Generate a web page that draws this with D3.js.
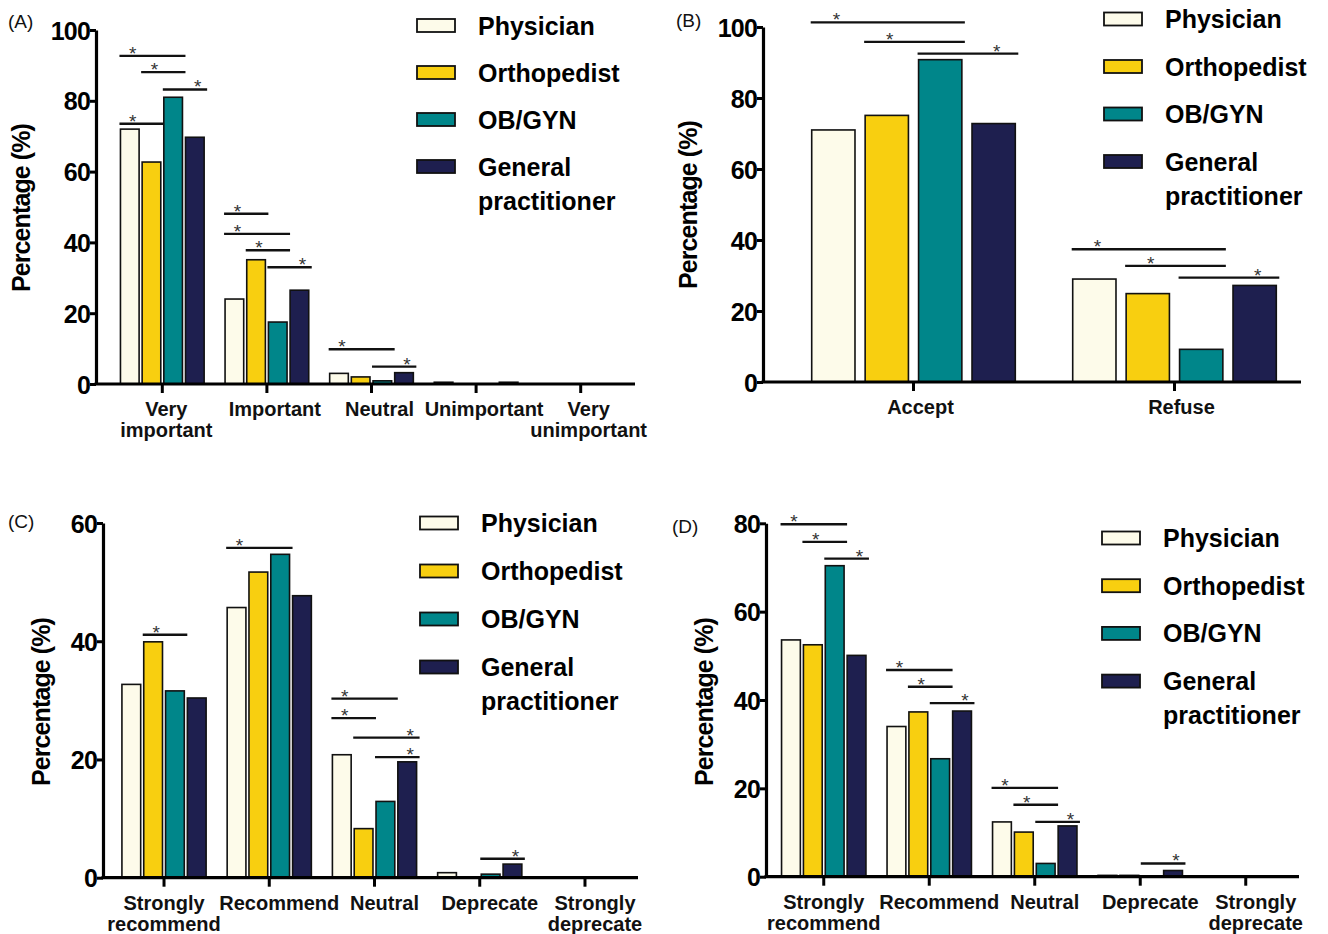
<!DOCTYPE html>
<html>
<head>
<meta charset="utf-8">
<script src="https://cdn.jsdelivr.net/npm/d3@7"></script>
<style>
  html, body { margin: 0; padding: 0; background: #ffffff; }
  svg { display: block; font-family: "Liberation Sans", Arial, Helvetica, sans-serif; }
</style>
</head>
<body>
<script>
// ---- shared series ----
const groups = ["Physician", "Orthopedist", "OB/GYN", "General practitioner"];
const groupColors = ["#fdfbea", "#f8cf10", "#00868a", "#1e1f4f"];

// ---- (A) importance ----
const catsA = ["Very important", "Important", "Neutral", "Unimportant", "Very unimportant"];
const catLinesA = [["Very", "important"], ["Important"], ["Neutral"], ["Unimportant"], ["Very", "unimportant"]];
const physicianA = [72.0, 24.0, 3.0, 0.5, 0];
const orthopedistA = [62.7, 35.1, 2.0, 0, 0];
const obgynA = [81.0, 17.5, 0.9, 0, 0];
const gpA = [69.7, 26.5, 3.2, 0.5, 0];
const ticksA = [0, 20, 40, 60, 80, 100];
// [category, from group, to group, bracket height (%), group under the star]
const sigA = [
  ["Very important", 0, 2, 92.7, 0], ["Very important", 1, 2, 88.1, 1],
  ["Very important", 2, 3, 83.2, 3], ["Very important", 0, 1, 73.5, 0],
  ["Important", 0, 1, 48.1, 0], ["Important", 0, 2, 42.4, 0],
  ["Important", 1, 2, 37.8, 1], ["Important", 2, 3, 33.0, 3],
  ["Neutral", 0, 2, 9.8, 0], ["Neutral", 2, 3, 4.9, 3]
];

// ---- (B) accept / refuse ----
const catsB = ["Accept", "Refuse"];
const catLinesB = [["Accept"], ["Refuse"]];
const physicianB = [71.0, 29.0];
const orthopedistB = [75.1, 24.9];
const obgynB = [90.8, 9.2];
const gpB = [72.8, 27.2];
const ticksB = [0, 20, 40, 60, 80, 100];
const sigB = [
  ["Accept", 0, 2, 101.3, 0], ["Accept", 1, 2, 95.8, 1], ["Accept", 2, 3, 92.5, 3],
  ["Refuse", 0, 2, 37.4, 0], ["Refuse", 1, 2, 32.7, 1], ["Refuse", 2, 3, 29.4, 3]
];

// ---- (C) recommendation ----
const catsC = ["Strongly recommend", "Recommend", "Neutral", "Deprecate", "Strongly deprecate"];
const catLinesC = [["Strongly", "recommend"], ["Recommend"], ["Neutral"], ["Deprecate"], ["Strongly", "deprecate"]];
const physicianC = [32.7, 45.7, 20.8, 0.85, 0];
const orthopedistC = [39.9, 51.7, 8.3, 0, 0];
const obgynC = [31.6, 54.7, 12.9, 0.6, 0];
const gpC = [30.4, 47.7, 19.6, 2.3, 0];
const ticksC = [0, 20, 40, 60];
const sigC = [
  ["Strongly recommend", 1, 2, 41.1, 1],
  ["Recommend", 0, 2, 55.8, 0],
  ["Neutral", 0, 2, 30.3, 0], ["Neutral", 0, 1, 27.0, 0],
  ["Neutral", 1, 3, 23.7, 3], ["Neutral", 2, 3, 20.4, 3],
  ["Deprecate", 2, 3, 3.2, 3]
];

// ---- (D) recommendation ----
const catsD = ["Strongly recommend", "Recommend", "Neutral", "Deprecate", "Strongly deprecate"];
const catLinesD = [["Strongly", "recommend"], ["Recommend"], ["Neutral"], ["Deprecate"], ["Strongly", "deprecate"]];
const physicianD = [53.6, 34.0, 12.4, 0.3, 0];
const orthopedistD = [52.5, 37.3, 10.1, 0.3, 0];
const obgynD = [70.4, 26.7, 3.0, 0, 0];
const gpD = [50.1, 37.5, 11.5, 1.4, 0];
const ticksD = [0, 20, 40, 60, 80];
const sigD = [
  ["Strongly recommend", 0, 2, 79.8, 0], ["Strongly recommend", 1, 2, 75.8, 1],
  ["Strongly recommend", 2, 3, 72.0, 3],
  ["Recommend", 0, 2, 46.8, 0], ["Recommend", 1, 2, 43.0, 1], ["Recommend", 2, 3, 39.3, 3],
  ["Neutral", 0, 2, 20.1, 0], ["Neutral", 1, 2, 16.3, 1], ["Neutral", 2, 3, 12.4, 3],
  ["Deprecate", 2, 3, 3.0, 3]
];

// ---- page layout ----
const W = 1328, H = 934;
const svg = d3.select("body").append("svg").attr("width", W).attr("height", H);

function drawPanel(p, L) {
  const g = svg.append("g");
  const y = d3.scaleLinear().domain([0, p.ticks[p.ticks.length - 1]]).range([L.y0, L.yTop]);
  const x0 = d3.scaleBand().domain(p.cats).range([L.bandStart, L.bandEnd])
    .paddingInner(L.outerPad * 2).paddingOuter(L.outerPad);
  const x1 = d3.scaleBand().domain(d3.range(groups.length)).range([0, x0.bandwidth()])
    .paddingInner(L.barPad);
  const bw = x1.bandwidth();

  // bars
  p.series.forEach((vals, si) => {
    g.append("g").selectAll("rect")
      .data(p.cats.map((c, ci) => ({ c, v: vals[ci] })).filter(d => d.v > 0))
      .join("rect")
      .attr("x", d => x0(d.c) + x1(si))
      .attr("y", d => y(d.v))
      .attr("width", bw)
      .attr("height", d => L.y0 - y(d.v))
      .attr("fill", groupColors[si])
      .attr("stroke", "#111")
      .attr("stroke-width", 1.6);
  });

  // significance brackets
  const sg = g.append("g");
  p.sig.forEach(([c, a, b, v, s]) => {
    const xa = x0(c) + x1(a) - 1;
    const xb = x0(c) + x1(b) + bw + 3;
    sg.append("line").attr("x1", xa).attr("x2", xb).attr("y1", y(v)).attr("y2", y(v))
      .attr("stroke", "#111").attr("stroke-width", 2.4);
    sg.append("text").attr("x", x0(c) + x1(s) + bw / 2 + 3).attr("y", y(v) + 4)
      .attr("text-anchor", "middle").attr("font-size", 19).attr("fill", "#333").text("*");
  });

  // y axis
  const ya = g.append("g").attr("transform", `translate(${L.axisX},0)`)
    .call(d3.axisLeft(y).tickValues(p.ticks).tickSize(6).tickSizeOuter(0).tickPadding(0));
  ya.select(".domain").attr("stroke", "#000").attr("stroke-width", 3.2);
  ya.selectAll(".tick line").attr("stroke", "#000").attr("stroke-width", 3);
  ya.selectAll(".tick text").attr("font-size", 25).attr("font-weight", "bold")
    .attr("letter-spacing", -0.8).attr("fill", "#000").attr("dy", "0.36em");

  // x axis
  const xa = g.append("g").attr("transform", `translate(0,${L.y0})`)
    .call(d3.axisBottom(x0).tickSize(9).tickSizeOuter(0).tickFormat(""));
  xa.select(".domain").remove();
  xa.selectAll(".tick line").attr("stroke", "#000").attr("stroke-width", 3);
  g.append("line").attr("x1", L.axisX - 1.5).attr("x2", L.axisEnd)
    .attr("y1", L.y0).attr("y2", L.y0).attr("stroke", "#000").attr("stroke-width", 3.2);
  p.cats.forEach((c, ci) => {
    const shift = ci === 0 ? L.firstLabelDx : L.labelDx;
    const t = g.append("text").attr("text-anchor", "middle")
      .attr("font-size", 20).attr("font-weight", "bold").attr("fill", "#111");
    p.catLines[ci].forEach((line, li) => {
      t.append("tspan").attr("x", x0(c) + x0.bandwidth() / 2 + shift)
        .attr("y", L.y0 + 32 + li * 21).text(line);
    });
  });

  // y axis title
  g.append("text").attr("transform", `translate(${L.titleX},${L.titleY}) rotate(-90)`)
    .attr("text-anchor", "middle").attr("font-size", 25).attr("fill", "#000")
    .attr("font-weight", "bold").attr("letter-spacing", -0.9)
    .text("Percentage (%)");

  // panel letter
  g.append("text").attr("x", L.labelX).attr("y", L.labelY)
    .attr("font-size", 19).attr("fill", "#111").text(p.label);

  // legend
  const lg = g.append("g");
  groups.forEach((name, i) => {
    const cy = L.legY + i * L.legStep;
    lg.append("rect").attr("x", L.legX).attr("y", cy - 6.5).attr("width", 38).attr("height", 13)
      .attr("fill", groupColors[i]).attr("stroke", "#111").attr("stroke-width", 1.8);
    const words = name === "General practitioner" ? ["General", "practitioner"] : [name];
    words.forEach((w, wi) => {
      lg.append("text").attr("x", L.legX + 61).attr("y", cy + 9 + wi * 34)
        .attr("font-size", 25).attr("font-weight", "bold").attr("fill", "#000").text(w);
    });
  });
}

drawPanel(
  { label: "(A)", cats: catsA, catLines: catLinesA, series: [physicianA, orthopedistA, obgynA, gpA], ticks: ticksA, sig: sigA },
  { axisX: 96, y0: 384, yTop: 30, bandStart: 110, bandEnd: 633, outerPad: 0.1, barPad: 0.14, axisEnd: 635,
    firstLabelDx: 4, labelDx: 8,
    titleX: 30, titleY: 208, labelX: 8, labelY: 28, legX: 417, legY: 25.5, legStep: 47 }
);
drawPanel(
  { label: "(B)", cats: catsB, catLines: catLinesB, series: [physicianB, orthopedistB, obgynB, gpB], ticks: ticksB, sig: sigB },
  { axisX: 763, y0: 382, yTop: 27, bandStart: 783, bandEnd: 1305, outerPad: 0.11, barPad: 0.19, axisEnd: 1301,
    firstLabelDx: 7, labelDx: 7,
    titleX: 697, titleY: 205, labelX: 676, labelY: 27, legX: 1104, legY: 19, legStep: 47.5 }
);
drawPanel(
  { label: "(C)", cats: catsC, catLines: catLinesC, series: [physicianC, orthopedistC, obgynC, gpC], ticks: ticksC, sig: sigC },
  { axisX: 103, y0: 877.7, yTop: 523, bandStart: 111.4, bandEnd: 637.6, outerPad: 0.1, barPad: 0.14, axisEnd: 638,
    firstLabelDx: 0, labelDx: 10,
    titleX: 50, titleY: 702, labelX: 8, labelY: 528, legX: 420, legY: 523, legStep: 48 }
);
drawPanel(
  { label: "(D)", cats: catsD, catLines: catLinesD, series: [physicianD, orthopedistD, obgynD, gpD], ticks: ticksD, sig: sigD },
  { axisX: 766, y0: 876.7, yTop: 523.3, bandStart: 771, bandEnd: 1298.5, outerPad: 0.1, barPad: 0.14, axisEnd: 1299,
    firstLabelDx: 0, labelDx: 10,
    titleX: 713, titleY: 702, labelX: 672, labelY: 533, legX: 1102, legY: 538, legStep: 47.7 }
);
</script>
</body>
</html>
